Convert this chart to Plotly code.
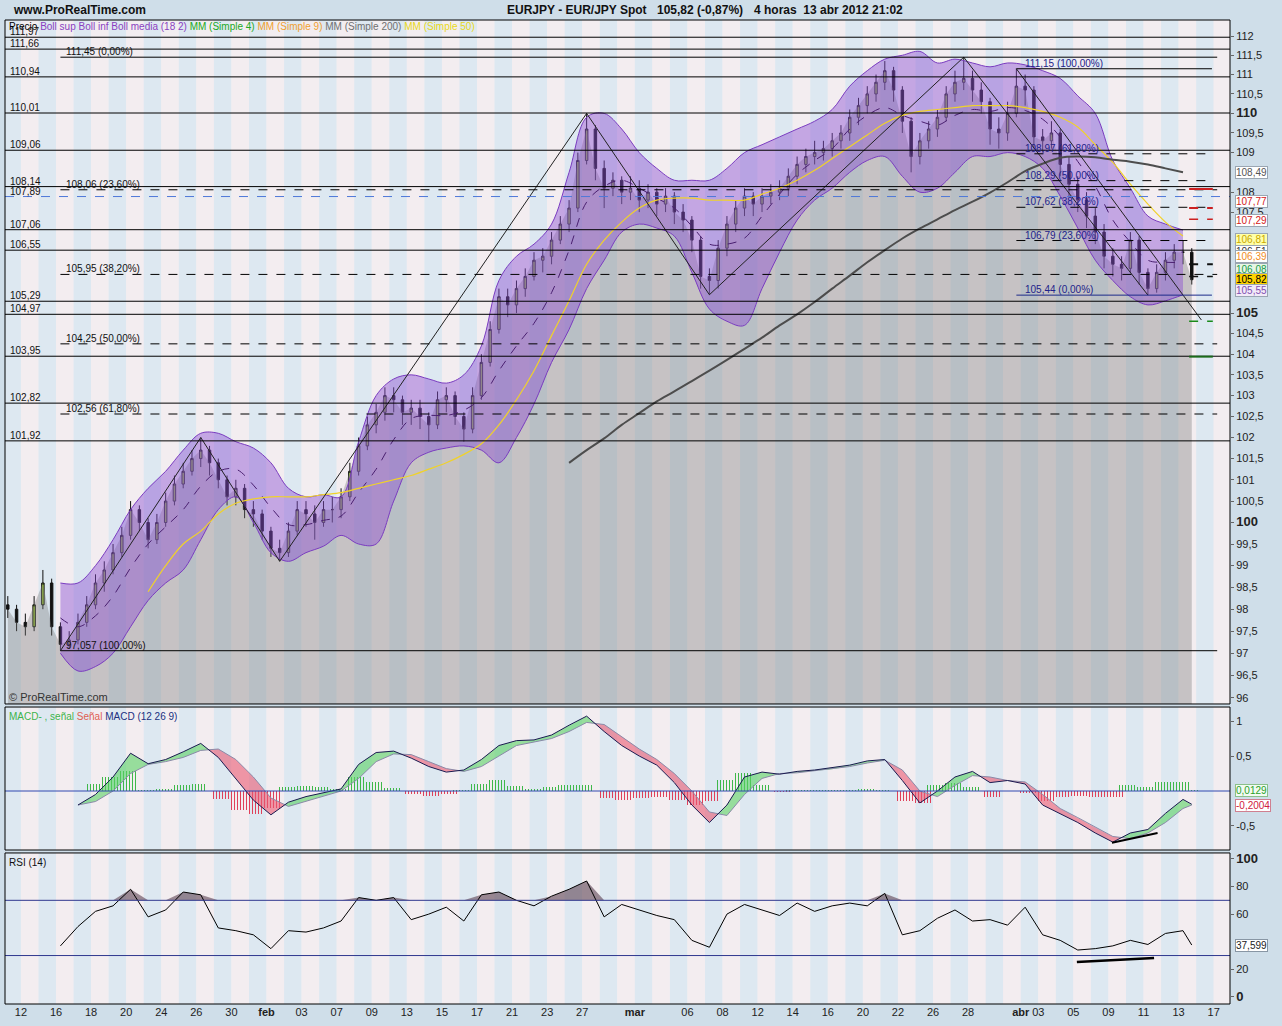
import math
import plotly.graph_objects as go

# ---------------- DATA ----------------
# price bars: one bar every half trading day, first bar at day index -0.75 (day 0 = 12 Jan)
first_open = 98.1
close = [98.0, 97.7, 97.6, 98.1, 98.6, 97.6, 97.2, 97.3, 97.7, 98.1,
         98.6, 98.9, 99.3, 99.7, 100.3, 100.0, 99.6, 100.0, 100.5, 100.9,
         101.2, 101.5, 101.7, 101.4, 101.0, 100.6, 100.8, 100.3, 100.2, 99.8,
         99.4, 99.3, 99.8, 100.3, 100.2, 100.0, 100.3, 100.3, 100.6, 101.2,
         101.8, 102.3, 102.6, 103.0, 102.9, 102.6, 102.7, 102.5, 102.3, 102.9,
         103.0, 102.5, 102.2, 103.0, 103.8, 104.6, 105.4, 105.2, 105.6, 105.9,
         106.3, 106.4, 106.8, 107.2, 107.6, 108.8, 109.6, 108.6, 108.1, 108.3,
         108.0, 108.1, 107.8, 108.0, 107.7, 107.9, 107.5, 107.3, 106.8, 105.9,
         105.8, 106.6, 107.2, 107.6, 107.9, 107.7, 107.9, 108.0, 108.1, 108.4,
         108.7, 108.9, 109.0, 109.1, 109.3, 109.5, 109.9, 110.2, 110.5, 110.8,
         111.1, 110.6, 109.8, 108.9, 109.3, 109.6, 109.9, 110.5, 110.8, 110.9,
         110.6, 110.3, 109.6, 109.5, 110.0, 110.7, 110.6, 109.4, 109.3, 109.5,
         108.7, 108.2, 107.8, 107.4, 107.0, 106.4, 106.2, 106.1, 106.8, 106.0,
         105.6, 106.0, 106.3, 106.5, 106.5, 105.82]
high = [98.3, 98.1, 97.9, 98.3, 98.9, 98.7, 97.7, 97.5, 97.9, 98.3,
        98.8, 99.1, 99.5, 99.9, 100.5, 100.4, 100.1, 100.2, 100.7, 101.1,
        101.4, 101.7, 102.0, 101.8, 101.5, 101.1, 101.0, 100.9, 100.5, 100.3,
        99.9, 99.6, 100.0, 100.5, 100.5, 100.4, 100.5, 100.6, 100.8, 101.4,
        102.0, 102.5, 102.8, 103.2, 103.2, 103.0, 102.9, 102.9, 102.6, 103.1,
        103.2, 103.1, 102.6, 103.2, 104.0, 104.8, 105.6, 105.6, 105.8, 106.1,
        106.5, 106.6, 107.0, 107.4, 107.8, 109.0, 110.0, 109.7, 108.8, 108.5,
        108.4, 108.4, 108.3, 108.2, 108.1, 108.1, 108.0, 107.7, 107.4, 106.9,
        106.1, 106.8, 107.4, 107.8, 108.1, 108.0, 108.1, 108.2, 108.3, 108.6,
        108.9, 109.1, 109.3, 109.3, 109.5, 109.7, 110.1, 110.4, 110.7, 111.0,
        111.35, 111.2, 110.7, 109.9, 109.5, 109.8, 110.1, 110.7, 111.1, 111.45,
        111.1, 110.8, 110.4, 109.9, 110.3, 111.15, 111.0, 110.7, 109.6, 109.8,
        109.6, 108.9, 108.4, 108.0, 107.6, 107.2, 106.6, 106.4, 107.0, 106.9,
        106.1, 106.2, 106.5, 106.7, 106.8, 106.6]
low = [97.8, 97.5, 97.4, 97.5, 98.0, 97.4, 97.06, 97.1, 97.2, 97.6,
       98.0, 98.4, 98.8, 99.2, 99.6, 99.8, 99.4, 99.5, 99.9, 100.4,
       100.8, 101.1, 101.3, 101.1, 100.8, 100.4, 100.4, 100.1, 99.9, 99.6,
       99.2, 99.1, 99.2, 99.7, 99.9, 99.6, 99.9, 100.0, 100.1, 100.5,
       101.1, 101.7, 102.1, 102.4, 102.6, 102.3, 102.3, 102.2, 101.9, 102.2,
       102.6, 102.3, 101.9, 102.1, 102.9, 103.7, 104.5, 104.9, 105.0, 105.4,
       105.8, 106.0, 106.2, 106.7, 107.0, 107.5, 108.7, 108.3, 107.6, 107.9,
       107.7, 107.8, 107.5, 107.6, 107.4, 107.5, 107.2, 107.0, 106.5, 105.6,
       105.45, 105.6, 106.4, 107.0, 107.4, 107.4, 107.5, 107.7, 107.8, 107.9,
       108.2, 108.5, 108.7, 108.8, 108.9, 109.1, 109.3, 109.7, 110.0, 110.3,
       110.6, 110.3, 109.5, 108.5, 108.7, 109.1, 109.4, 109.8, 110.3, 110.6,
       110.3, 110.0, 109.2, 109.1, 109.3, 109.9, 110.2, 109.1, 109.0, 109.1,
       108.4, 107.9, 107.5, 107.1, 106.7, 106.1, 105.9, 105.8, 106.0, 105.7,
       105.44, 105.5, 105.8, 106.1, 106.2, 105.7]

# daily indicator samples, first sample at day index -0.75
boll_sup = [None, None, None, 98.6, 98.6, 99.0, 99.6, 100.3, 100.8, 101.2,
            101.7, 102.1, 102.1, 101.9, 101.75, 101.4, 100.8, 100.6, 100.65, 100.6,
            101.9, 103.0, 103.4, 103.5, 103.4, 103.3, 103.5, 104.2, 105.8, 106.4,
            106.7, 107.2, 108.5, 109.9, 110.0, 109.6, 109.0, 108.6, 108.3, 108.3,
            108.3, 108.6, 109.0, 109.2, 109.4, 109.6, 109.8, 110.1, 110.7, 111.1,
            111.4, 111.5, 111.6, 111.3, 111.4, 111.3, 111.2, 111.3, 111.25, 111.1,
            110.9, 110.45, 110.0, 108.8, 108.1, 107.4, 107.2, 107.05]
boll_inf = [None, None, None, 97.0, 96.6, 96.7, 97.0, 97.6, 98.2, 98.6,
            98.9, 99.6, 100.3, 100.6, 100.0, 99.3, 99.1, 99.3, 99.45, 99.7,
            99.5, 99.5, 100.5, 101.4, 101.65, 101.75, 101.8, 101.7, 101.4, 102.0,
            102.8, 103.8, 104.6, 105.6, 106.3, 107.0, 107.2, 107.1, 106.9, 106.0,
            105.1, 104.8, 104.7, 105.6, 106.5, 107.3, 107.8, 108.1, 108.5, 108.8,
            108.9, 108.4, 108.0, 108.1, 108.5, 108.9, 108.9, 109.0, 108.9, 108.6,
            107.9, 107.1, 106.3, 105.8, 105.4, 105.2, 105.3, 105.45]
mm50 = [None] * 8 + [98.4, 99.0,
        99.5, 99.8, 100.2, 100.45, 100.55, 100.6, 100.6, 100.6, 100.65, 100.7,
        100.8, 100.9, 101.0, 101.1, 101.25, 101.4, 101.6, 101.85, 102.3, 102.9,
        103.6, 104.45, 105.3, 106.2, 106.8, 107.25, 107.6, 107.8, 107.85, 107.85,
        107.8, 107.8, 107.8, 107.95, 108.1, 108.3, 108.55, 108.85, 109.15, 109.45,
        109.75, 109.95, 110.05, 110.1, 110.15, 110.2, 110.2, 110.2, 110.15, 110.05,
        109.9, 109.65, 109.2, 108.75, 108.2, 107.7, 107.25, 106.9]
mm200 = [None] * 32 + [101.4, 101.7, 101.98, 102.3, 102.58, 102.86, 103.1, 103.35,
         103.6, 103.86, 104.13, 104.4, 104.7, 104.97, 105.27, 105.6, 105.92, 106.25,
         106.55, 106.84, 107.09, 107.32, 107.55, 107.76, 107.99, 108.25, 108.53, 108.72,
         108.87, 108.9, 108.88, 108.82, 108.77, 108.7, 108.6, 108.5]

# MACD / signal / RSI : daily samples + last bar value
macd = [None, None, None, None, -0.2, -0.05, 0.2, 0.54, 0.39, 0.45,
        0.56, 0.68, 0.48, 0.18, -0.13, -0.34, -0.16, -0.08, -0.02, 0.03,
        0.38, 0.55, 0.57, 0.47, 0.35, 0.27, 0.3, 0.45, 0.65, 0.72,
        0.73, 0.8, 0.94, 1.07, 0.85, 0.65, 0.5, 0.37, 0.12, -0.2,
        -0.45, -0.2, 0.2, 0.27, 0.24, 0.28, 0.3, 0.33, 0.37, 0.43,
        0.45, 0.15, -0.17, 0.0, 0.2, 0.28, 0.12, 0.15, 0.1, -0.2,
        -0.33, -0.45, -0.6, -0.73, -0.6, -0.55, -0.32, -0.12, -0.19]
senal = [None, None, None, None, -0.2, -0.15, 0.0, 0.25, 0.38, 0.42,
         0.48, 0.58, 0.6, 0.45, 0.2, -0.1, -0.22, -0.15, -0.07, 0.0,
         0.18, 0.42, 0.53, 0.52, 0.42, 0.32, 0.28, 0.35, 0.5, 0.65,
         0.7, 0.75, 0.85, 0.98, 0.95, 0.78, 0.6, 0.45, 0.25, 0.0,
         -0.3, -0.35, -0.05, 0.18, 0.25, 0.26, 0.29, 0.31, 0.35, 0.4,
         0.44, 0.3, 0.0, -0.08, 0.08, 0.22, 0.2, 0.15, 0.13, -0.05,
         -0.25, -0.38, -0.52, -0.65, -0.68, -0.6, -0.45, -0.25, -0.2]
rsi = [None, None, None, 37, 51, 62, 66, 78, 58, 63,
       76, 74, 50, 48, 45, 35, 48, 47, 50, 55,
       72, 70, 72, 56, 60, 65, 55, 74, 76, 70,
       66, 73, 78, 84, 58, 67, 63, 59, 56, 41,
       36, 60, 67, 63, 59, 68, 62, 66, 68, 66,
       75, 45, 48, 57, 63, 55, 56, 52, 65, 45,
       41, 34, 35, 37, 41, 38, 46, 48, 37.6]

# horizontal levels
support_levels = [111.97, 111.66, 110.94, 110.01, 109.06, 108.14, 107.06, 106.55,
                  105.29, 104.97, 103.95, 102.82, 101.92]
support_labels = ["111,97", "111,66", "110,94", "110,01", "109,06", "108,14", "107,06", "106,55",
                  "105,29", "104,97", "103,95", "102,82", "101,92"]
blue_level, blue_label = 107.89, "107,89"
fib1_levels = [111.45, 108.06, 105.95, 104.25, 102.56, 97.057]
fib1_labels = ["111,45 (0,00%)", "108,06 (23,60%)", "105,95 (38,20%)", "104,25 (50,00%)",
               "102,56 (61,80%)", "97,057 (100,00%)"]
fib1_solid = [True, False, False, False, False, True]
fib2_levels = [111.15, 108.97, 108.29, 107.62, 106.79, 105.44]
fib2_labels = ["111,15 (100,00%)", "108,97 (61,80%)", "108,29 (50,00%)", "107,62 (38,20%)",
               "106,79 (23,60%)", "105,44 (0,00%)"]
fib2_solid = [True, False, False, False, False, True]

# zig-zag trend line pivots (day index, price)
zig_day = [2.25, 10.25, 14.75, 32.25, 39.25, 53.75, 64.25]
zig_price = [97.057, 102.0, 99.1, 110.0, 105.45, 111.45, 105.44]
chan_day = [56.75, 67.3]
chan_price = [111.15, 104.83]

# right-axis value boxes
box_vals = [108.49, 107.77, 107.29, 106.81, 106.51, 106.39, 106.08, 105.82, 105.55]
box_text = ["108,49", "107,77", "107,29", "106,81", "106,51", "106,39", "106,08", "105,82", "105,55"]
box_fg = ["#555555", "#d42020", "#d42020", "#c8a800", "#333333", "#f08c1e", "#1a9a4a", "#000000", "#8050b0"]
box_bg = ["#ffffff", "#ffffff", "#ffffff", "#ffffa8", "#ffffff", "#ffffff", "#e6f6e6", "#ffd400", "#f2eaf8"]

# price axis ticks (those hidden behind the value boxes are left out)
price_ticks = [96, 96.5, 97, 97.5, 98, 98.5, 99, 99.5, 100, 100.5, 101, 101.5, 102, 102.5,
               103, 103.5, 104, 104.5, 105, 107.5, 108, 109, 109.5, 110, 110.5, 111, 111.5, 112]

# x axis ticks (trading-day index)
tick_days = [0, 2, 4, 6, 8, 10, 12, 14, 16, 18, 20, 22, 24, 26, 28, 30, 32, 35, 38, 40,
             42, 44, 46, 48, 50, 52, 54, 57, 58, 60, 62, 64, 66, 68]
tick_text = ["12", "16", "18", "20", "24", "26", "30", "<b>feb</b>", "03", "07", "09", "13", "15",
             "17", "21", "23", "27", "<b>mar</b>", "06", "08", "12", "14", "16", "20", "22", "26",
             "28", "<b>abr</b>", "03", "05", "09", "11", "13", "17"]

# ---------------- helpers ----------------
bar_day = [-0.75 + 0.5 * k for k in range(len(close))]
ind_day = [-0.75 + j for j in range(len(boll_sup))]
osc_day = ind_day + [66.75]
opens = [first_open] + close[:-1]

XMIN, XMAX = -0.91, 68.93
Y_PRICE = [0.3049, 1.0]
Y_MACD = [0.1565, 0.3018]
Y_RSI = [0.0, 0.1535]


def PX(x):
    return (x - 5) / 1225.0


def PY(y):
    return (1004 - y) / 984.0


def L(v):
    return math.log10(v)


fig = go.Figure()

# gray price area
fig.add_trace(go.Scatter(x=bar_day, y=[90] * len(bar_day), mode="lines", line=dict(width=0),
                         hoverinfo="skip", yaxis="y"))
fig.add_trace(go.Scatter(x=bar_day, y=close, mode="lines", line=dict(width=0), fill="tonexty",
                         fillcolor="rgba(120,120,120,0.36)", hoverinfo="skip", yaxis="y"))

# bollinger
bx = [d for d, u, l in zip(ind_day, boll_sup, boll_inf) if u is not None and l is not None]
bu = [u for u, l in zip(boll_sup, boll_inf) if u is not None and l is not None]
bl = [l for u, l in zip(boll_sup, boll_inf) if u is not None and l is not None]
bm = [(u + l) / 2 for u, l in zip(bu, bl)]
fig.add_trace(go.Scatter(x=bx, y=bu, mode="lines", line=dict(color="#7a3cc0", width=1, shape="spline"), yaxis="y"))
fig.add_trace(go.Scatter(x=bx, y=bl, mode="lines", line=dict(color="#7a3cc0", width=1, shape="spline"),
                         fill="tonexty", fillcolor="rgba(140,80,210,0.45)", yaxis="y"))
fig.add_trace(go.Scatter(x=bx, y=bm, mode="lines", line=dict(color="#4a2070", width=1, dash="dash", shape="spline"),
                         yaxis="y"))

# moving averages
fig.add_trace(go.Scatter(x=ind_day, y=mm50, mode="lines", line=dict(color="#f0d22a", width=1.2, shape="spline"),
                         yaxis="y"))
fig.add_trace(go.Scatter(x=ind_day, y=mm200, mode="lines", line=dict(color="#4d4d4d", width=2, shape="spline"),
                         yaxis="y"))

# candles
fig.add_trace(go.Candlestick(x=bar_day, open=opens, high=high, low=low, close=close,
                             increasing=dict(fillcolor="#a6d23c", line=dict(color="#111111", width=1)),
                             decreasing=dict(fillcolor="#111111", line=dict(color="#111111", width=1)),
                             whiskerwidth=0, yaxis="y"))

# trend lines
fig.add_trace(go.Scatter(x=zig_day, y=zig_price, mode="lines", line=dict(color="#222222", width=1), yaxis="y"))
fig.add_trace(go.Scatter(x=chan_day, y=chan_price, mode="lines", line=dict(color="#222222", width=1), yaxis="y"))

# ---- MACD ----
def fill_runs(xs, a, b):
    pts = [(x, p, q) for x, p, q in zip(xs, a, b) if p is not None and q is not None]
    polys = []
    cur = [pts[0]]
    for (x0, a0, b0), (x1, a1, b1) in zip(pts[:-1], pts[1:]):
        d0, d1 = a0 - b0, a1 - b1
        if d0 * d1 < 0:
            t = d0 / (d0 - d1)
            xc = x0 + t * (x1 - x0)
            yc = a0 + t * (a1 - a0)
            cur.append((xc, yc, yc))
            polys.append(cur)
            cur = [(xc, yc, yc)]
        cur.append((x1, a1, b1))
    polys.append(cur)
    return polys


hist = [(m - s) if (m is not None and s is not None) else None for m, s in zip(macd, senal)]
hist_pos = [h if (h is not None and h >= 0) else None for h in hist]
hist_neg = [h if (h is not None and h < 0) else None for h in hist]
fig.add_trace(go.Bar(x=osc_day, y=hist_pos, width=1.0,
                     marker=dict(color="rgba(0,0,0,0)", line=dict(width=0),
                                 pattern=dict(shape="|", fgcolor="#3fb84a", bgcolor="rgba(0,0,0,0)",
                                              size=3, solidity=0.35, fillmode="replace")),
                     yaxis="y2"))
fig.add_trace(go.Bar(x=osc_day, y=hist_neg, width=1.0,
                     marker=dict(color="rgba(0,0,0,0)", line=dict(width=0),
                                 pattern=dict(shape="|", fgcolor="#e0405a", bgcolor="rgba(0,0,0,0)",
                                              size=3, solidity=0.35, fillmode="replace")),
                     yaxis="y2"))

for poly in fill_runs(osc_day, macd, senal):
    s = sum(p[1] - p[2] for p in poly)
    col = "rgba(90,210,100,0.6)" if s >= 0 else "rgba(235,90,115,0.6)"
    xs = [p[0] for p in poly] + [p[0] for p in reversed(poly)]
    ys = [p[1] for p in poly] + [p[2] for p in reversed(poly)]
    fig.add_trace(go.Scatter(x=xs, y=ys, mode="lines", line=dict(width=0), fill="toself",
                             fillcolor=col, yaxis="y2", hoverinfo="skip"))

fig.add_trace(go.Scatter(x=osc_day, y=senal, mode="lines", line=dict(color="#8a8aa8", width=1), yaxis="y2"))
fig.add_trace(go.Scatter(x=osc_day, y=macd, mode="lines", line=dict(color="#1a1a50", width=1), yaxis="y2"))
fig.add_trace(go.Scatter(x=[62.2, 64.8], y=[-0.74, -0.6], mode="lines", line=dict(color="#000000", width=2),
                         yaxis="y2"))

# ---- RSI ----
rsi_hi = [max(v, 70) if v is not None else None for v in rsi]
rsi_lo = [min(v, 30) if v is not None else None for v in rsi]
fig.add_trace(go.Scatter(x=osc_day, y=[70 if v is not None else None for v in rsi], mode="lines",
                         line=dict(width=0), yaxis="y3", hoverinfo="skip"))
fig.add_trace(go.Scatter(x=osc_day, y=rsi_hi, mode="lines", line=dict(width=0), fill="tonexty",
                         fillcolor="rgba(105,80,95,0.65)", yaxis="y3", hoverinfo="skip"))
fig.add_trace(go.Scatter(x=osc_day, y=[30 if v is not None else None for v in rsi], mode="lines",
                         line=dict(width=0), yaxis="y3", hoverinfo="skip"))
fig.add_trace(go.Scatter(x=osc_day, y=rsi_lo, mode="lines", line=dict(width=0), fill="tonexty",
                         fillcolor="rgba(105,80,95,0.65)", yaxis="y3", hoverinfo="skip"))
fig.add_trace(go.Scatter(x=osc_day, y=rsi, mode="lines", line=dict(color="#000000", width=1), yaxis="y3"))
fig.add_trace(go.Scatter(x=[60.2, 64.6], y=[25.4, 28.3], mode="lines", line=dict(color="#000000", width=2.5),
                         yaxis="y3"))

# ---------------- shapes ----------------
shapes = []
stripe_cols = ["#dde8f1", "#f3edf0"]
for yd in ["y domain", "y2 domain", "y3 domain"]:
    for d in range(-1, 69):
        x0, x1 = max(d, XMIN), min(d + 1, XMAX)
        shapes.append(dict(type="rect", xref="x", yref=yd, x0=x0, x1=x1, y0=0, y1=1,
                           fillcolor=stripe_cols[(d + 1) % 2], line=dict(width=0), layer="below"))

for lv in support_levels:
    shapes.append(dict(type="line", xref="paper", yref="y", x0=0, x1=1, y0=lv, y1=lv,
                       line=dict(color="#000000", width=1), layer="above"))
shapes.append(dict(type="line", xref="paper", yref="y", x0=0, x1=1, y0=blue_level, y1=blue_level,
                   line=dict(color="#4f78d8", width=1, dash="dash"), layer="above"))
for lv, so in zip(fib1_levels, fib1_solid):
    shapes.append(dict(type="line", xref="x", yref="y", x0=2.25, x1=68.2, y0=lv, y1=lv,
                       line=dict(color="#000000", width=1, dash=None if so else "dash"), layer="above"))
for i, (lv, so) in enumerate(zip(fib2_levels, fib2_solid)):
    col = "#1c2a8a" if i == len(fib2_levels) - 1 else "#000000"
    shapes.append(dict(type="line", xref="x", yref="y", x0=56.75, x1=67.9, y0=lv, y1=lv,
                       line=dict(color=col, width=1, dash=None if so else "dash"), layer="above"))

# small projected level marks at the right end
marks = [(108.08, "#cc2020", None, 2), (107.6, "#cc2020", "dash", 2), (107.32, "#cc2020", "dash", 1.5),
         (106.2, "#111111", "dash", 2), (105.9, "#111111", "dash", 1.5),
         (104.8, "#1a8a1a", "dash", 1.5), (103.94, "#1a6a1a", None, 2)]
for lv, col, dsh, w in marks:
    shapes.append(dict(type="line", xref="x", yref="y", x0=66.6, x1=67.95, y0=lv, y1=lv,
                       line=dict(color=col, width=w, dash=dsh), layer="above"))

shapes.append(dict(type="line", xref="paper", yref="y2", x0=0, x1=1, y0=0, y1=0,
                   line=dict(color="#3048b0", width=1), layer="above"))
for lv in [70, 30]:
    shapes.append(dict(type="line", xref="paper", yref="y3", x0=0, x1=1, y0=lv, y1=lv,
                       line=dict(color="#30388f", width=1), layer="above"))
for yd in ["y domain", "y2 domain", "y3 domain"]:
    shapes.append(dict(type="rect", xref="paper", yref=yd, x0=0, x1=1, y0=0, y1=1,
                       line=dict(color="#000000", width=1), layer="above"))

# ---------------- annotations ----------------
ann = []
FONT = "Liberation Sans, Arial, sans-serif"


def text(x, y, t, size=11, color="#000", bold=False, xanchor="left", yanchor="middle"):
    ann.append(dict(xref="paper", yref="paper", x=PX(x), y=PY(y), text=("<b>%s</b>" % t) if bold else t,
                    showarrow=False, xanchor=xanchor, yanchor=yanchor,
                    font=dict(family=FONT, size=size, color=color)))


text(11, 10, "www.ProRealTime.com", size=12, bold=True, color="#111")
text(505, 10, "EURJPY - EUR/JPY Spot", size=12, bold=True, color="#111")
text(655, 10, "105,82 (-0,87%)", size=12, bold=True, color="#111")
text(752, 10, "4 horas  13 abr 2012 21:02", size=12, bold=True, color="#111")
text(7, 27, '<span style="color:#000">Precio</span> <span style="color:#8a3fc0">Boll sup Boll inf Boll media (18 2)</span>'
            ' <span style="color:#22aa22">MM (Simple 4)</span> <span style="color:#f0a030">MM (Simple 9)</span>'
            ' <span style="color:#707070">MM (Simple 200)</span> <span style="color:#e8d820">MM (Simple 50)</span>',
     size=10)
text(7, 697, "© ProRealTime.com", size=11, color="#333")
text(7, 716, '<span style="color:#3cb44b">MACD- , señal</span> <span style="color:#e06050">Señal</span>'
             ' <span style="color:#203080">MACD (12 26 9)</span>', size=10)
text(7, 862, "RSI (14)", size=10, color="#111")

for lv, lb in zip(support_levels, support_labels):
    ann.append(dict(xref="paper", yref="y", x=PX(8), y=L(lv), text=lb, showarrow=False,
                    xanchor="left", yanchor="bottom", yshift=-2, font=dict(family=FONT, size=10, color="#111")))
ann.append(dict(xref="paper", yref="y", x=PX(8), y=L(blue_level), text=blue_label, showarrow=False,
                xanchor="left", yanchor="bottom", yshift=-2, font=dict(family=FONT, size=10, color="#111")))
for lv, lb in zip(fib1_levels, fib1_labels):
    ann.append(dict(xref="x", yref="y", x=2.45, y=L(lv), text=lb, showarrow=False,
                    xanchor="left", yanchor="bottom", yshift=-2, font=dict(family=FONT, size=10, color="#111")))
for lv, lb in zip(fib2_levels, fib2_labels):
    ann.append(dict(xref="x", yref="y", x=57.1, y=L(lv), text=lb, showarrow=False,
                    xanchor="left", yanchor="bottom", yshift=-2, font=dict(family=FONT, size=10, color="#22228a")))

for v, t, fg, bg in zip(box_vals, box_text, box_fg, box_bg):
    ann.append(dict(xref="paper", yref="y", x=PX(1235), y=L(v), text=t, showarrow=False,
                    xanchor="left", yanchor="middle", bgcolor=bg, bordercolor="#9aa6b2", borderwidth=1,
                    borderpad=0, font=dict(family=FONT, size=10, color=fg)))
ann.append(dict(xref="paper", yref="y2", x=PX(1235), y=0.0129, text="0,0129", showarrow=False,
                xanchor="left", yanchor="middle", bgcolor="#f2fbf2", bordercolor="#8ac08a", borderwidth=1,
                borderpad=0, font=dict(family=FONT, size=10, color="#2aa02a")))
ann.append(dict(xref="paper", yref="y2", x=PX(1235), y=-0.2004, text="-0,2004", showarrow=False,
                xanchor="left", yanchor="middle", bgcolor="#ffffff", bordercolor="#d08090", borderwidth=1,
                borderpad=0, font=dict(family=FONT, size=10, color="#d02040")))
ann.append(dict(xref="paper", yref="y3", x=PX(1235), y=37.599, text="37,599", showarrow=False,
                xanchor="left", yanchor="middle", bgcolor="#ffffff", bordercolor="#8896a4", borderwidth=1,
                borderpad=0, font=dict(family=FONT, size=10, color="#222")))

# ---------------- axes ----------------
price_text = []
for v in price_ticks:
    s = ("%g" % v).replace(".", ",")
    if v in (100, 105, 110):
        s = '<b><span style="font-size:13px">%s</span></b>' % s
    price_text.append(s)

axis_common = dict(side="right", showgrid=False, zeroline=False, ticks="outside", ticklen=3,
                   tickcolor="#666", tickfont=dict(family=FONT, size=11, color="#222"), anchor="x",
                   showline=False, fixedrange=True)

fig.update_layout(
    width=1282, height=1026,
    margin=dict(l=5, r=52, t=20, b=22),
    paper_bgcolor="#cfdee9", plot_bgcolor="#f3eff2",
    showlegend=False, bargap=0, boxgap=0.6,
    font=dict(family=FONT, size=11, color="#222"),
    xaxis=dict(domain=[0, 1], range=[XMIN, XMAX], anchor="y3", showgrid=False, zeroline=False,
               tickmode="array", tickvals=tick_days, ticktext=tick_text, ticks="",
               tickfont=dict(family=FONT, size=11, color="#222"), rangeslider=dict(visible=False),
               showline=False, fixedrange=True),
    yaxis=dict(domain=Y_PRICE, type="log", range=[L(95.86), L(112.42)],
               tickmode="array", tickvals=price_ticks, ticktext=price_text, **axis_common),
    yaxis2=dict(domain=Y_MACD, range=[-0.843, 1.2], tickmode="array", tickvals=[1, 0.5, -0.5],
                ticktext=["1", "0,5", "-0,5"], **axis_common),
    yaxis3=dict(domain=Y_RSI, range=[-5.1, 104.3], tickmode="array", tickvals=[0, 20, 60, 80, 100],
                ticktext=['<b><span style="font-size:13px">0</span></b>', "20", "60", "80",
                          '<b><span style="font-size:13px">100</span></b>'], **axis_common),
    shapes=shapes,
    annotations=ann,
)

fig.write_html("out.html", config={"displayModeBar": False},
               post_script="document.body.style.margin='0';document.body.style.padding='0';"
                           "document.body.style.overflow='hidden';")
